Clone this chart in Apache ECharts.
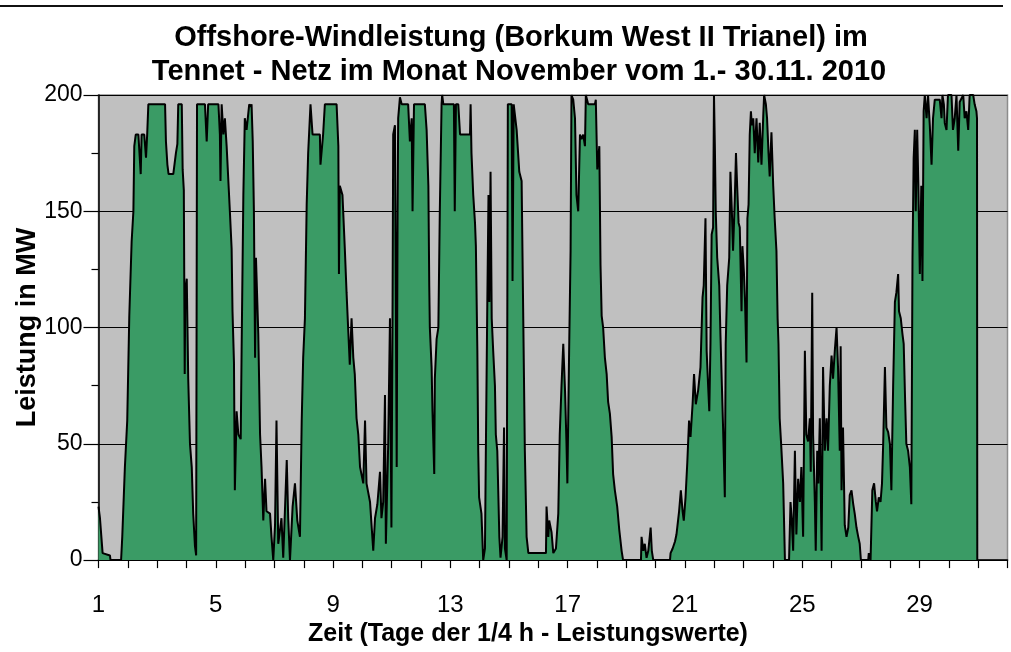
<!DOCTYPE html>
<html>
<head>
<meta charset="utf-8">
<script src="https://cdn.jsdelivr.net/npm/echarts@6/dist/echarts.min.js"></script>
<style>
html,body{margin:0;padding:0;background:#fff;}
#chart{width:1011px;height:652px;}
</style>
</head>
<body>
<div id="chart"></div>
<script>
// Time since start of 1 Nov (days, 0 = day 1 00:00)
const zeitTage = [
0.00,0.05,0.11,0.14,0.39,0.41,0.77,0.81,0.90,0.98,1.05,1.13,1.19,1.22,1.27,1.36,1.44,1.47,1.56,1.62,1.66,1.70,2.27,2.30,2.35,2.39,2.55,2.64,2.69,2.72,2.84,2.87,2.91,2.94,2.96,3.01,3.06,3.12,3.18,3.23,3.29,3.33,3.36,3.63,3.69,3.74,4.09,4.14,4.16,4.20,4.26,4.31,4.37,4.48,4.54,4.57,4.62,4.65,4.71,4.77,4.85,4.88,4.94,4.99,
5.05,5.14,5.19,5.22,5.26,5.30,5.34,5.37,5.45,5.51,5.56,5.62,5.68,5.73,5.85,5.90,5.96,6.02,6.07,6.13,6.24,6.30,6.42,6.47,6.53,6.62,6.70,6.78,6.87,6.93,6.98,7.04,7.10,7.15,7.23,7.30,7.55,7.57,7.66,7.72,8.12,8.18,8.20,8.23,8.32,8.40,8.46,8.52,8.57,8.63,8.69,8.74,8.80,8.86,8.92,9.03,9.09,9.14,9.26,9.37,9.43,9.51,9.60,9.65,9.71,9.77,9.80,9.88,9.94,9.99,
10.03,10.05,10.11,10.17,10.20,10.22,10.28,10.34,10.56,10.62,10.68,10.71,10.76,11.13,11.19,11.25,11.28,11.30,11.36,11.39,11.45,11.47,11.53,11.59,11.64,11.70,11.72,11.76,12.12,12.15,12.19,12.27,12.33,12.67,12.69,12.72,12.78,12.84,12.87,12.92,12.95,12.98,13.06,13.12,13.18,13.21,13.26,13.30,13.33,13.37,13.41,13.46,13.52,13.55,13.60,13.67,13.71,13.78,13.83,13.86,13.92,13.94,13.96,14.09,14.12,14.16,14.20,14.26,14.35,14.43,14.48,14.54,14.60,14.66,
15.26,15.28,15.34,15.37,15.45,15.51,15.60,15.68,15.73,15.79,15.85,15.91,15.96,15.99,16.05,16.10,16.13,16.19,16.25,16.30,16.36,16.42,16.47,16.53,16.59,16.62,16.70,16.93,16.96,17.01,17.08,17.12,17.16,17.21,17.27,17.33,17.38,17.44,17.50,17.55,17.61,17.69,17.76,17.84,17.89,18.50,18.52,18.58,18.63,18.69,18.75,18.83,18.87,18.92,19.49,19.51,19.58,19.66,19.71,19.80,19.86,19.92,19.96,
20.02,20.08,20.14,20.19,20.26,20.31,20.37,20.45,20.53,20.60,20.64,20.70,20.74,20.79,20.83,20.87,20.91,20.96,20.99,21.02,21.05,21.10,21.17,21.21,21.26,21.30,21.36,21.39,21.44,21.51,21.55,21.60,21.64,21.70,21.74,21.78,21.83,21.87,21.93,21.96,22.01,22.05,22.10,22.13,22.17,22.21,22.25,22.28,22.33,22.38,22.44,22.50,22.55,22.61,22.67,22.70,22.76,22.80,22.85,22.89,22.95,23.01,23.06,23.12,23.16,23.19,23.23,23.28,23.35,23.41,23.55,23.60,23.64,23.69,23.75,23.80,23.86,23.92,23.97,
24.03,24.09,24.14,24.20,24.26,24.29,24.34,24.37,24.43,24.46,24.51,24.55,24.60,24.66,24.71,24.77,24.83,24.88,24.94,25.00,25.05,25.11,25.17,25.22,25.28,25.31,25.34,25.39,25.45,25.51,25.57,25.62,25.68,25.74,25.79,25.85,25.91,25.96,26.00,26.25,26.27,26.33,26.38,26.39,26.45,26.51,26.55,26.61,26.67,26.72,26.76,26.82,26.87,26.93,26.99,27.04,27.10,27.16,27.21,27.27,27.30,27.36,27.42,27.46,27.51,27.55,27.61,27.67,27.72,27.76,27.80,27.84,27.87,27.92,27.96,
28.01,28.06,28.10,28.14,28.18,28.24,28.29,28.35,28.41,28.46,28.52,28.69,28.75,28.78,28.83,28.86,28.92,28.97,29.09,29.14,29.20,29.26,29.32,29.37,29.49,29.54,29.60,29.66,29.71,29.83,29.88,29.94,29.96,29.97
];
// Power in MW
const leistungMW = [
23,18,18,3,2,0,0,10,40,60,105,137,150,178,183,183,166,183,183,173,183,196,196,180,170,166,166,175,179,196,196,168,159,80,115,121,78,50,40,20,6,2,196,196,180,196,196,183,163,196,183,190,178,150,134,107,85,30,64,54,52,90,157,190,
185,196,195,196,180,150,87,130,97,54,40,17,35,21,20,10,0,15,60,7,18,1,43,18,0,23,33,17,10,60,87,104,153,175,196,183,183,170,183,196,196,178,123,161,157,134,115,98,84,104,87,80,61,54,40,33,60,33,25,4,18,24,38,18,25,71,7,50,104,14,
113,183,187,40,150,190,199,196,196,180,190,150,196,196,185,161,118,100,83,64,37,78,95,100,150,196,200,196,196,150,196,196,183,183,196,175,157,145,135,90,47,27,20,0,5,47,111,157,111,167,104,90,75,54,47,10,1,10,57,5,0,0,196,196,120,196,196,185,167,163,110,47,10,3,
3,23,10,17,12,3,5,20,54,75,93,73,50,33,90,133,200,198,190,157,150,183,181,183,178,200,196,196,198,168,178,127,105,100,87,80,68,63,53,37,30,23,13,4,0,0,10,4,7,1,4,14,4,0,0,3,5,8,11,21,30,21,17,
27,42,60,53,67,80,67,73,83,113,118,147,90,75,64,93,140,143,200,178,150,130,118,97,75,57,27,93,118,130,167,150,133,155,175,161,145,143,107,135,124,111,85,147,153,183,193,187,190,175,190,171,188,170,191,200,196,190,175,165,184,161,147,133,104,93,61,50,33,0,0,25,18,4,47,11,35,25,40,
10,90,54,51,61,38,115,54,25,4,47,33,61,4,83,47,61,47,75,88,78,90,100,83,47,92,30,57,15,10,14,28,30,24,20,14,10,7,0,0,3,0,0,30,33,25,21,27,25,33,50,83,57,55,50,30,75,111,115,123,107,104,97,93,68,50,47,40,24,130,173,185,150,185,161,
123,161,120,193,200,190,200,187,170,190,198,198,190,200,196,188,185,200,200,185,190,200,176,197,200,190,193,185,200,200,196,193,190,0
];
const xTickDays = [1, 5, 9, 13, 17, 21, 25, 29];
const yTicks = [0, 50, 100, 150, 200];
const titleLines = [
  'Offshore-Windleistung (Borkum West II Trianel) im',
  'Tennet - Netz im Monat November vom 1.- 30.11. 2010'
];

const seriesData = zeitTage.map((t, i) => [t, leistungMW[i]]);

const chart = echarts.init(document.getElementById('chart'), null, {renderer: 'canvas'});
const FONT = '"Liberation Sans", Arial, sans-serif';
chart.setOption({
  animation: false,
  backgroundColor: '#ffffff',
  graphic: [
    {type: 'line', shape: {x1: 0, y1: 6, x2: 1003, y2: 6}, style: {stroke: '#111', lineWidth: 2}},
    {type: 'text', x: 521, y: 38, style: {text: titleLines[0], fill: '#000', font: 'bold 29px ' + FONT, textAlign: 'center', textVerticalAlign: 'middle'}},
    {type: 'text', x: 519, y: 72, style: {text: titleLines[1], fill: '#000', font: 'bold 29px ' + FONT, textAlign: 'center', textVerticalAlign: 'middle'}}
  ],
  grid: {
    left: 98.5, right: 3.5, top: 95, bottom: 91,
    show: true, backgroundColor: '#c0c0c0', borderColor: '#8c8c8c', borderWidth: 1.5
  },
  xAxis: {
    type: 'value', min: 0, max: 31, interval: 1,
    name: 'Zeit (Tage der 1/4 h - Leistungswerte)',
    nameLocation: 'middle', nameGap: 60,
    nameTextStyle: {fontFamily: FONT, fontWeight: 'bold', fontSize: 25, color: '#000', padding: [0, 50, 0, 0]},
    axisLine: {show: true, onZero: false, lineStyle: {color: '#000', width: 1.5}},
    axisTick: {show: true, inside: false, length: 8, lineStyle: {color: '#000', width: 1.2}},
    axisLabel: {
      show: true, margin: 33, fontFamily: FONT, fontSize: 24, color: '#000',
      formatter: v => (xTickDays.indexOf(Math.round(v) + 1) >= 0 ? String(Math.round(v) + 1) : '')
    },
    splitLine: {show: false}
  },
  yAxis: {
    type: 'value', min: 0, max: 200, interval: 50,
    name: 'Leistung in MW', nameLocation: 'middle', nameGap: 57, nameRotate: 90,
    nameMoveOverlap: false,
    nameTextStyle: {fontFamily: FONT, fontWeight: 'bold', fontSize: 27, color: '#000'},
    axisLine: {show: true, lineStyle: {color: '#000', width: 1.5}},
    axisTick: {show: true, inside: false, length: 15, lineStyle: {color: '#000', width: 1.2}},
    minorTick: {show: true, splitNumber: 2, length: 7, lineStyle: {color: '#000', width: 1.2}},
    axisLabel: {
      show: true, margin: 16, fontFamily: FONT, fontSize: 23, color: '#000',
      formatter: v => (yTicks.indexOf(v) >= 0 ? String(v) : '')
    },
    splitLine: {show: true, lineStyle: {color: '#000', width: 1}}
  },
  series: [{
    type: 'line',
    data: seriesData,
    showSymbol: false,
    symbol: 'none',
    clip: true,
    lineStyle: {color: '#000', width: 2},
    areaStyle: {color: '#3a9b65', opacity: 1},
    z: 2
  }]
});
</script>
</body>
</html>
